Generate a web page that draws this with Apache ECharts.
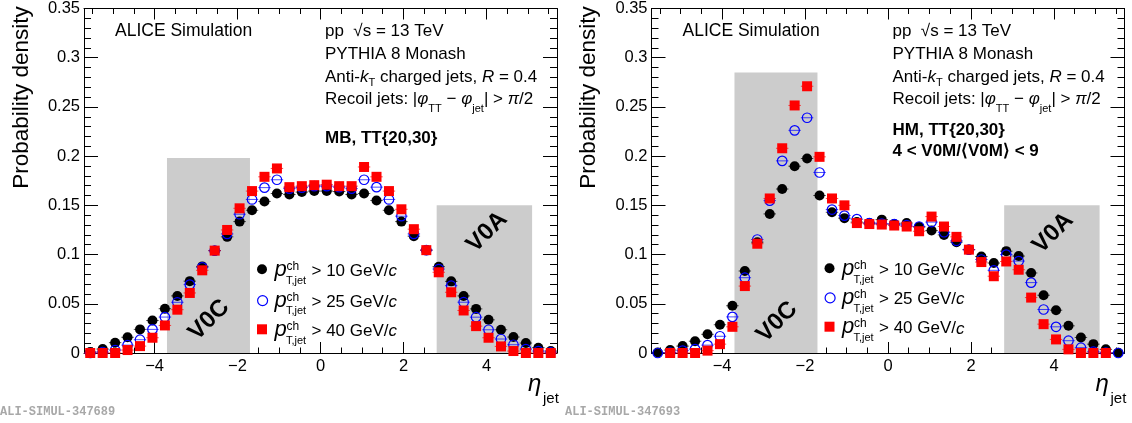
<!DOCTYPE html>
<html>
<head>
<meta charset="utf-8">
<script src="https://cdn.jsdelivr.net/npm/echarts@6/dist/echarts.min.js"></script>
<style>
html,body{margin:0;padding:0;background:#fff;}
#c{width:1132px;height:423px;}
</style>
</head>
<body>
<div id="c"></div>
<script>
// ---------------- data ----------------
const eta = [-5.55,-5.25,-4.95,-4.65,-4.35,-4.05,-3.75,-3.45,-3.15,-2.85,-2.55,-2.25,-1.95,-1.65,-1.35,-1.05,-0.75,-0.45,-0.15,
             0.15,0.45,0.75,1.05,1.35,1.65,1.95,2.25,2.55,2.85,3.15,3.45,3.75,4.05,4.35,4.65,4.95,5.25,5.55];

// MB, TT{20,30}
const mb10 = [0.001,0.004,0.0105,0.016,0.024,0.033,0.045,0.058,0.073,0.088,0.104,0.118,0.1335,0.145,0.154,0.162,0.161,0.1635,0.1645,
              0.1645,0.164,0.161,0.162,0.155,0.145,0.1335,0.1187,0.1045,0.0877,0.0728,0.058,0.0448,0.0337,0.0236,0.0162,0.0101,0.0054,0.002];
const mb25 = [0,0.001,0.003,0.008,0.0135,0.024,0.0365,0.0515,0.0695,0.087,0.104,0.121,0.141,0.156,0.168,0.176,0.167,0.168,0.1695,
              0.1695,0.1685,0.167,0.176,0.1685,0.156,0.139,0.121,0.1045,0.0853,0.0684,0.0516,0.0364,0.0236,0.0142,0.0084,0.004,0.002,0.0007];
const mb40 = [0,0,0,0.003,0.007,0.0155,0.028,0.044,0.061,0.084,0.104,0.125,0.147,0.1645,0.179,0.1875,0.1685,0.1695,0.1705,
              0.171,0.1695,0.1695,0.189,0.179,0.1645,0.146,0.1258,0.1045,0.082,0.0617,0.0432,0.0273,0.0155,0.0067,0.002,0,0,0];

// HM, TT{20,30}, 4 < V0M/<V0M> < 9
const hm10 = [0.0005,0.003,0.007,0.012,0.019,0.0287,0.048,0.0833,0.1126,0.1413,0.1666,0.1898,0.1976,0.160,0.143,0.137,0.133,0.132,0.1355,
              0.131,0.132,0.128,0.1244,0.120,0.1126,0.105,0.098,0.0914,0.1035,0.0985,0.0813,0.0587,0.0435,0.0276,0.0158,0.009,0.0037,0.0003];
const hm25 = [0,0.0005,0.0024,0.004,0.008,0.017,0.0367,0.0765,0.1153,0.1548,0.1952,0.2262,0.239,0.1834,0.1457,0.1396,0.136,0.132,0.1315,
              0.131,0.130,0.1285,0.133,0.1227,0.114,0.105,0.095,0.084,0.100,0.0934,0.0715,0.0442,0.0266,0.0125,0.0054,0.0013,0.0003,0];
const hm40 = [null,0,0,0,0.0024,0.009,0.0266,0.068,0.111,0.157,0.208,0.2515,0.271,0.1993,0.157,0.150,0.132,0.131,0.1305,
              0.1295,0.1285,0.1237,0.1386,0.1285,0.118,0.105,0.0924,0.078,0.093,0.0846,0.0563,0.0293,0.0138,0.0037,0,0,0,null];

// detector acceptance boxes: [etaMin, etaMax, height]
const boxesMB = [[-3.7,-1.7,0.198],[2.8,5.1,0.15]];
const boxesHM = [[-3.7,-1.7,0.285],[2.8,5.1,0.15]];
const boxLabels = ['V0C','V0A'];

const xMajorTicks = [-4,-2,0,2,4];
const xMinorTicks = [-5.5,-5,-4.5,-3.5,-3,-2.5,-1.5,-1,-0.5,0.5,1,1.5,2.5,3,3.5,4.5,5,5.5];
const yTickLabels = ['0','0.05','0.1','0.15','0.2','0.25','0.3','0.35'];

const seriesNames = ['> 10 GeV/c','> 25 GeV/c','> 40 GeV/c'];
const ptCuts = ['10','25','40'];
const halfBin = 0.15;

// ---------------- helpers ----------------
const FONT = '"Liberation Sans", Arial, Helvetica, sans-serif';
const mctx = document.createElement('canvas').getContext('2d');
function mw(t, font){ mctx.font = font; return mctx.measureText(t).width; }
function fontStr(s){ return (s.i?'italic ':'')+(s.b?'bold ':'')+s.f+'px '+FONT; }
function run(x, base, segs){
  const out = [];
  segs.forEach(s=>{
    const font = fontStr(s);
    out.push({type:'text', x:x, y: base + (s.dy||0) - 0.3465*s.f, z:100,
      style:{text:s.t, font:font, fill:'#000', align:'left', verticalAlign:'middle'}});
    x += mw(s.t, font) + (s.g||0);
  });
  return out;
}

const grids = [{left:84, top:7, width:473, height:346},{left:651.5, top:7, width:473, height:346}];

const xAxes = [], yAxes = [];
grids.forEach((g,gi)=>{
  const common = {gridIndex:gi, type:'value', min:-5.7, max:5.7, splitLine:{show:false}};
  xAxes.push(Object.assign({}, common, {position:'bottom',
    axisLine:{show:true, onZero:false, lineStyle:{color:'#000', width:1}},
    axisTick:{show:true, inside:true, length:11, customValues:xMajorTicks, lineStyle:{color:'#000'}},
    axisLabel:{show:true, customValues:xMajorTicks, margin:5, color:'#000', fontSize:16.5, fontFamily:FONT,
      formatter:v=> v<0 ? '\u2212'+(-v) : String(v)}}));
  xAxes.push(Object.assign({}, common, {position:'bottom',
    axisLine:{show:false, onZero:false},
    axisTick:{show:true, inside:true, length:5.5, customValues:xMinorTicks, lineStyle:{color:'#000'}},
    axisLabel:{show:false}}));
  xAxes.push(Object.assign({}, common, {position:'top',
    axisLine:{show:true, onZero:false, lineStyle:{color:'#000', width:1}},
    axisTick:{show:true, inside:true, length:11, customValues:xMajorTicks, lineStyle:{color:'#000'}},
    axisLabel:{show:false}}));
  xAxes.push(Object.assign({}, common, {position:'top',
    axisLine:{show:false, onZero:false},
    axisTick:{show:true, inside:true, length:5.5, customValues:xMinorTicks, lineStyle:{color:'#000'}},
    axisLabel:{show:false}}));
  const yc = {gridIndex:gi, type:'value', min:0, max:0.35, interval:0.05, splitLine:{show:false}, minorSplitLine:{show:false},
    axisLine:{show:true, onZero:false, lineStyle:{color:'#000', width:1}},
    axisTick:{show:true, inside:true, length:14, lineStyle:{color:'#000'}},
    minorTick:{show:true, splitNumber:5, length:7, lineStyle:{color:'#000'}}};
  yAxes.push(Object.assign({}, yc, {position:'left',
    axisLabel:{show:true, margin:4, color:'#000', fontSize:16.5, fontFamily:FONT,
      formatter:(v)=> yTickLabels[Math.round(v/0.05)]}}));
  yAxes.push(Object.assign({}, yc, {position:'right', axisLabel:{show:false}}));
});

const styles = [
  {symbol:'circle', size:10, itemStyle:{color:'#000000', opacity:1}, bar:'#000000', z:3},
  {symbol:'circle', size:9.5, itemStyle:{color:'rgba(0,0,0,0)', borderColor:'#0000ff', borderWidth:1.2, opacity:1}, bar:'#0000ff', z:4},
  {symbol:'rect', size:10, itemStyle:{color:'#ff0000', opacity:1}, bar:'#ff0000', z:5}
];

const series = [];
const panels = [
  {gi:0, data:[mb10,mb25,mb40], boxes:boxesMB},
  {gi:1, data:[hm10,hm25,hm40], boxes:boxesHM}
];
panels.forEach(p=>{
  const xi = p.gi*4, yi = p.gi*2;
  series.push({type:'custom', xAxisIndex:xi, yAxisIndex:yi, z:1, silent:true,
    data:p.boxes,
    renderItem:(params, api)=>{
      const a = api.coord([api.value(0), api.value(2)]);
      const b = api.coord([api.value(1), 0]);
      return {type:'rect', shape:{x:a[0], y:a[1], width:b[0]-a[0], height:b[1]-a[1]}, style:{fill:'#cccccc'}};
    }});
  p.data.forEach((arr, k)=>{
    const pts = [];
    eta.forEach((x,i)=>{ if(arr[i]!==null) pts.push([x, arr[i]]); });
    series.push({type:'custom', xAxisIndex:xi, yAxisIndex:yi, z:2, silent:true, data:pts,
      renderItem:(params, api)=>{
        const a = api.coord([api.value(0)-halfBin, api.value(1)]);
        const b = api.coord([api.value(0)+halfBin, api.value(1)]);
        return {type:'line', shape:{x1:a[0], y1:a[1], x2:b[0], y2:b[1]}, style:{stroke:styles[k].bar, lineWidth:1, opacity:0.7}};
      }});
    series.push({type:'scatter', name:seriesNames[k], xAxisIndex:xi, yAxisIndex:yi, z:styles[k].z,
      symbol:styles[k].symbol, symbolSize:styles[k].size, itemStyle:styles[k].itemStyle, data:pts,
      emphasis:{disabled:true}});
  });
});

// legends (icon only; text drawn as graphic to allow stacked sub/superscripts)
const legends = [];
const legendRows = [[269.3,300,329.3],[268.3,297.3,326.7]];
const legendIcons = [
  {icon:'circle', itemStyle:{color:'#000', borderWidth:0, opacity:1}},
  {icon:'circle', itemStyle:{color:'rgba(0,0,0,0)', borderColor:'#0000ff', borderWidth:1.2, opacity:1}},
  {icon:'rect', itemStyle:{color:'#ff0000', borderWidth:0, opacity:1}}
];
const graphics = [];
grids.forEach((g,gi)=>{
  const ox = g.left;
  legendRows[gi].forEach((y0,k)=>{
    legends.push({show:true, orient:'vertical', left:ox+178-5, top:y0-5, padding:0, itemGap:0,
      itemWidth:10, itemHeight:10, selectedMode:false,
      formatter:()=> '', textStyle:{fontSize:6, lineHeight:6},
      data:[Object.assign({name:seriesNames[k]}, legendIcons[k])]});
    const base = y0 + 8;
    graphics.push(...run(ox+190.5, base, [{t:'p', f:22, i:1}]));
    graphics.push(...run(ox+202.5, y0+1.5, [{t:'ch', f:12}]));
    graphics.push(...run(ox+202, y0+15, [{t:'T,jet', f:11}]));
    graphics.push(...run(ox+227.5, base, [{t:'> '+ptCuts[k]+' GeV/', f:17},{t:'c', f:17, i:1}]));
  });
  // header texts
  graphics.push(...run(ox+31, 37.3, [{t:'ALICE Simulation', f:17.5}]));
  const tx = ox+241;
  graphics.push(...run(tx, 37, [{t:'pp  \u221As = 13 TeV', f:17}]));
  graphics.push(...run(tx, 60, [{t:'PYTHIA 8 Monash', f:17}]));
  graphics.push(...run(tx, 83, [{t:'Anti-', f:17},{t:'k', f:17, i:1},{t:'T', f:11, dy:4},{t:' charged jets, ', f:17},{t:'R', f:17, i:1},{t:' = 0.4', f:17}]));
  graphics.push(...run(tx, 105.5, [{t:'Recoil jets: |', f:17},{t:'\u03C6', f:17, i:1},{t:'TT', f:11, dy:7},{t:' \u2212 ', f:17},
    {t:'\u03C6', f:17, i:1},{t:'jet', f:11, dy:7},{t:'| > ', f:17},{t:'\u03C0', f:17, i:1},{t:'/2', f:17}]));
  if(gi===0){
    graphics.push(...run(tx, 144, [{t:'MB, TT{20,30}', f:17, b:1}]));
  } else {
    graphics.push(...run(tx, 136, [{t:'HM, TT{20,30}', f:17, b:1}]));
    graphics.push(...run(tx, 157, [{t:'4 < V0M/\u27E8V0M\u27E9 < 9', f:17, b:1}]));
  }
  // axis titles
  graphics.push({type:'text', x:ox-62.3, y:97.5, rotation:Math.PI/2, z:100,
    style:{text:'Probability density', font:'22.5px '+FONT, fill:'#000', align:'center', verticalAlign:'middle'}});
  graphics.push(...run(ox+444, 393, [{t:'\u03B7', f:24, i:1}]));
  graphics.push(...run(ox+459, 404, [{t:'jet', f:15}]));
  // watermark
  graphics.push({type:'text', x: gi===0 ? 0 : 565, y:411.5, z:100,
    style:{text: gi===0 ? 'ALI-SIMUL-347689' : 'ALI-SIMUL-347693', font:'bold 12px "Liberation Mono", monospace', fill:'#a8a8a8', align:'left', verticalAlign:'middle'}});
});
// detector labels
const labelPos = [[[209,320],[487,232]],[[777,322],[1053,233]]];
labelPos.forEach(pp=>pp.forEach((c,j)=>{
  graphics.push({type:'text', x:c[0], y:c[1], rotation:Math.PI/4, z:50,
    style:{text:boxLabels[j], font:'bold 24px '+FONT, fill:'#000', align:'center', verticalAlign:'middle'}});
}));

const chart = echarts.init(document.getElementById('c'), null, {renderer:'canvas'});
chart.setOption({
  animation:false,
  backgroundColor:'#fff',
  grid:grids,
  xAxis:xAxes,
  yAxis:yAxes,
  legend:legends,
  series:series,
  graphic:{elements:graphics}
});
</script>
</body>
</html>
